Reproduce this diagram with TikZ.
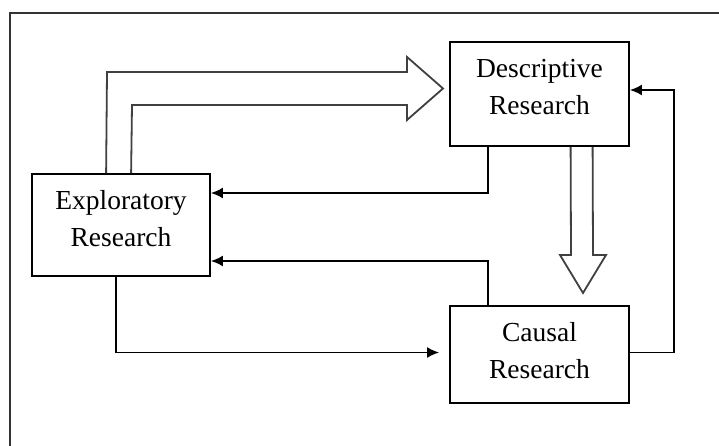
\documentclass[tikz,border=0pt]{standalone}
\usepackage{fontspec}
\setmainfont{Liberation Serif}
\usetikzlibrary{arrows.meta,calc}
\begin{document}
\begin{tikzpicture}[x=1pt,y=-1pt,
  box/.style={draw,line width=1.8pt,rectangle,inner sep=0pt},
  txt/.style={align=center,inner sep=0pt,font=\fontsize{27.5}{37}\selectfont},
  conn/.style={line width=1.8pt,-{Latex[length=12pt,width=11pt]}},
  fat/.style={line width=1.8pt,draw=black!75,line join=miter}]
\useasboundingbox (0,0) rectangle (719,446);
\fill[white] (0,0) rectangle (719,446);
% frame
\draw[line width=1.4pt,black!80] (10,446) -- (10,13) -- (719,13);
% boxes
\node[box,minimum width=178pt,minimum height=102pt] (exp) at (121,225) {};
\node[box,minimum width=179pt,minimum height=104pt] (des) at (539.5,94) {};
\node[box,minimum width=179pt,minimum height=97pt] (cau) at (539.5,354.5) {};
\node[txt] (expt) at ([yshift=6pt]exp.center) {Exploratory\\Research};
\node[txt] (dest) at ([yshift=7pt]des.center) {Descriptive\\Research};
\node[txt] (caut) at ([yshift=4pt]cau.center) {Causal\\Research};
% fat arrow exploratory -> descriptive
\draw[fat] ([xshift=75pt]exp.north west) -- (107,72) -- (407,72) -- (407,57) -- (443,88.5) -- (407,120) -- (407,105) -- (132,105) -- ([xshift=100pt]exp.north west);
% fat arrow descriptive -> causal
\draw[fat] ([xshift=121.5pt]des.south west) -- (571,255) -- (560,255) -- (583,293) -- (606,255) -- (593,255) -- ([xshift=143.5pt]des.south west);
% connectors
\draw[conn] ([xshift=39pt]des.south west) |- ([yshift=32pt]exp.east);
\draw[conn] ([xshift=39pt]cau.north west) |- ([yshift=-36pt]exp.east);
\draw[conn] ([xshift=-5pt]exp.south) |- ([xshift=-10pt,yshift=2pt]cau.west);
\draw[conn] ([yshift=2pt]cau.east) -- ++(44,0) |- ([yshift=4pt]des.east);
\end{tikzpicture}
\end{document}
